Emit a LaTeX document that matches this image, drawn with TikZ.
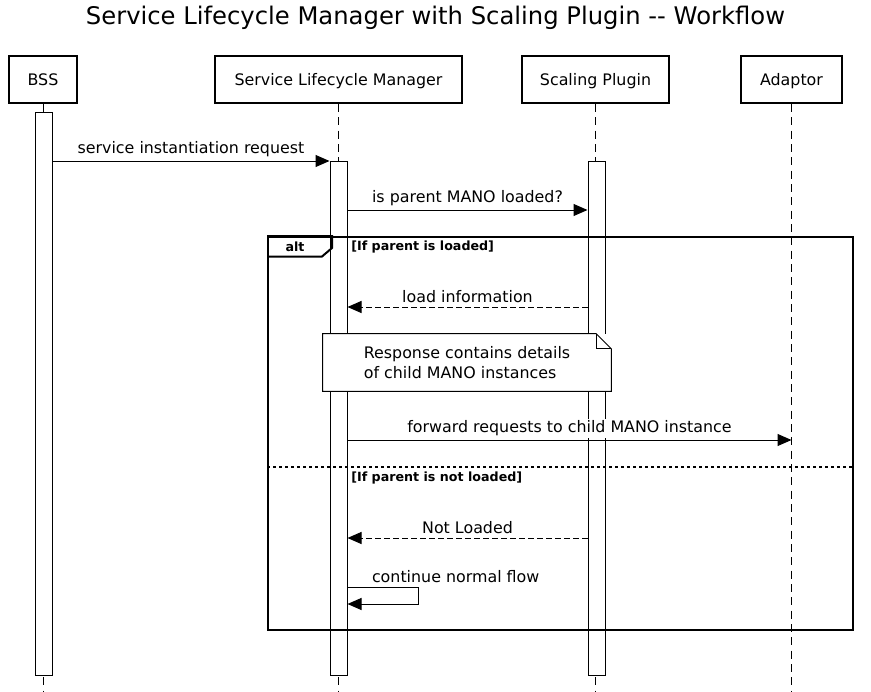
\documentclass[tikz,border=0pt]{standalone}
\usepackage{fontspec}
\setmainfont{DejaVu Sans}
\usetikzlibrary{positioning,arrows.meta,calc}

\begin{document}
\begin{tikzpicture}[x=0.75pt,y=-0.75pt,
    every node/.style={font=\fontsize{11.9}{14.5}\selectfont},
    actor/.style={draw, line width=1.5pt, fill=white, minimum height=35.25pt,
                  inner sep=0pt, text depth=0pt},
    life/.style={dash pattern=on 6pt off 4pt, line width=0.75pt},
    act/.style={draw, fill=white, line width=0.75pt, minimum width=12.75pt,
                inner sep=0pt},
    msg/.style={-{Triangle[length=10.5pt,width=9pt]}, line width=0.75pt},
    reply/.style={msg, dash pattern=on 4.5pt off 2.25pt},
    lbl/.style={above=1.5pt, inner sep=1pt, fill=white},
    guard/.style={font=\fontsize{9.5}{11}\selectfont\bfseries, anchor=west,
                  inner sep=0pt},
    notebox/.style={fill=white, minimum width=216pt, minimum height=42.75pt,
                    inner sep=0pt, align=left}]
  \useasboundingbox (0,0) rectangle (871,692);
  \node[font=\fontsize{18.2}{21}\selectfont] (title) at (435.5,18)
    {Service Lifecycle Manager with Scaling Plugin {-}{-} Workflow};
  % participants
  \node[actor, minimum width=51pt]     (bss) at (43,79.5)  {BSS};
  \node[actor, minimum width=185.25pt] (slm) at (338.5,79.5) {Service Lifecycle Manager};
  \node[actor, minimum width=110.25pt] (sp)  at (595.5,79.5) {Scaling Plugin};
  \node[actor, minimum width=75.75pt]  (ad)  at (791.5,79.5) {Adaptor};
  \coordinate (bottom) at (0,692);
  \foreach \p in {bss,slm,sp,ad}
    \draw[life] (\p.south) -- (\p.south |- bottom);
  % activations
  \node[act, minimum height=422.25pt] (abss) at (43.5,393.5) {};
  \node[act, minimum height=385.5pt]  (aslm) at (338.5,418)  {};
  \node[act, minimum height=385.5pt]  (asp)  at (596.5,418)  {};
  % message rows
  \coordinate (r1) at (0,161);
  \coordinate (r2) at (0,210);
  \coordinate (r3) at (0,307);
  \coordinate (r4) at (0,440);
  \coordinate (r5) at (0,538);
  \coordinate (r6) at (0,587);
  \coordinate (r7) at (0,604);
  \coordinate (sep) at (0,467);
  % alt frame
  \node[draw, line width=1.5pt, minimum width=438.75pt, minimum height=294.75pt,
        inner sep=0pt] (altbox) at (560.5,433.5) {};
  \draw[line width=1.5pt] (altbox.north west) -- ++(65,0) -- ++(0,12)
    -- ++(-10,8.5) -- ++(-55,0);
  \node[guard, anchor=center] (alttag) at (295,247) {alt};
  \node[guard] (g1) at (351,247) {[If parent is loaded]};
  \draw[line width=1.5pt, dash pattern=on 2.25pt off 2.25pt]
    (altbox.west |- sep) -- (altbox.east |- sep);
  \node[guard] (g2) at (351,478) {[If parent is not loaded]};
  % messages
  \draw[msg] (abss.east |- r1) -- node[lbl] {service instantiation request} (aslm.west |- r1);
  \draw[msg] (aslm.east |- r2) -- node[lbl] {is parent MANO loaded?} (asp.west |- r2);
  \draw[reply] (asp.west |- r3) -- node[lbl] {load information} (aslm.east |- r3);
  \draw[msg] (aslm.east |- r4) -- node[lbl] {forward requests to child MANO instance} (ad.south |- r4);
  \draw[reply] (asp.west |- r5) -- node[lbl] {Not Loaded} (aslm.east |- r5);
  \draw[msg] (aslm.east |- r6)
    node[anchor=south west, inner sep=1pt, xshift=17pt, yshift=1.5pt] {continue normal flow}
    -- ++(71,0) |- (aslm.east |- r7);
  % note
  \node[notebox] (nt) at (467,362.5)
    {Response contains details\\of child MANO instances};
  \draw[line width=0.75pt] (nt.north west) -- ($(nt.north east)+(-15,0)$)
    -- ($(nt.north east)+(0,15)$) -- (nt.south east) -- (nt.south west) -- cycle;
  \draw[line width=0.75pt] ($(nt.north east)+(-15,0)$) |- ($(nt.north east)+(0,15)$);
\end{tikzpicture}
\end{document}
